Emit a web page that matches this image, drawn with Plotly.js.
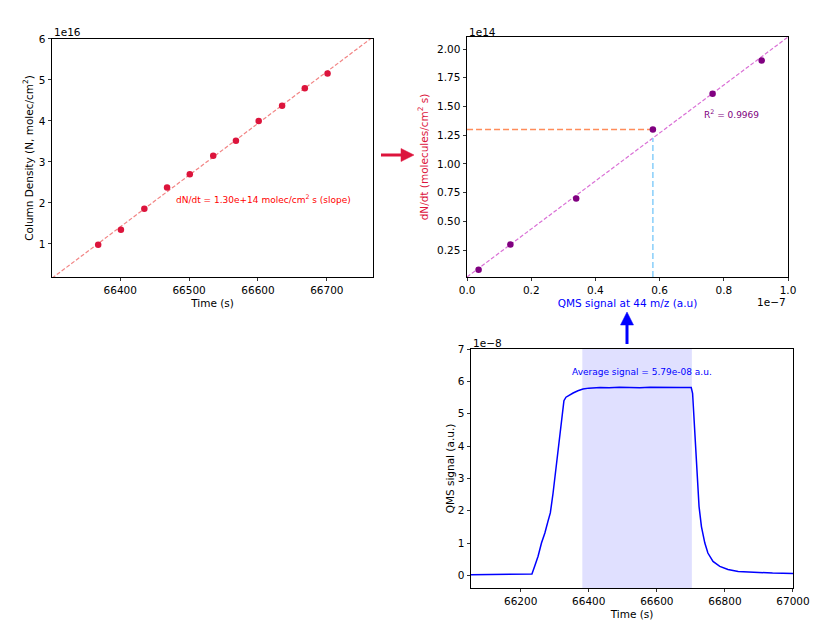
<!DOCTYPE html>
<html>
<head>
<meta charset="utf-8">
<script src="https://cdn.plot.ly/plotly-3.0.1.min.js"></script>
<style>
  html, body { margin: 0; padding: 0; background: #fff; }
  #chart { width: 830px; height: 623px; }
</style>
</head>
<body>
<div id="chart"></div>
<script>
// panel 1: column density vs time (values x1e16)
var depTime = [66368, 66401, 66435, 66468, 66501, 66535, 66568, 66601, 66635, 66668, 66701];
var colDensity = [0.98, 1.35, 1.86, 2.38, 2.70, 3.15, 3.52, 4.00, 4.37, 4.80, 5.16];

// panel 2: calibration, QMS signal (x1e-7) vs dN/dt (x1e14)
var qmsSignal = [0.036, 0.135, 0.340, 0.579, 0.765, 0.918];
var depRate = [0.08, 0.30, 0.70, 1.30, 1.61, 1.90];
var avgSignal = 0.579;   // 5.79e-08 a.u.
var slopeValue = 1.30;   // 1.30e14

// panel 3: QMS signal vs time (x1e-8)
var qmsTime = [66054, 66100, 66150, 66200, 66225, 66233, 66241, 66251, 66261, 66271,
               66280, 66287, 66295, 66305, 66315, 66323, 66327, 66333, 66345, 66354,
               66368, 66383, 66400, 66433, 66460, 66490, 66520, 66550, 66580, 66610,
               66640, 66670, 66695, 66701, 66705, 66709, 66713, 66718, 66724, 66731,
               66741, 66750, 66765, 66785, 66809, 66839, 66868, 66900, 66940, 67000];
var qmsValue = [0.02, 0.02, 0.02, 0.02, 0.02, 0.04, 0.28, 0.59, 1.00, 1.31,
                1.67, 1.93, 2.54, 3.47, 4.40, 5.11, 5.40, 5.51, 5.60, 5.64,
                5.71, 5.76, 5.79, 5.81, 5.80, 5.82, 5.81, 5.80, 5.82, 5.81,
                5.80, 5.81, 5.81, 5.81, 5.63, 4.81, 3.98, 2.95, 2.13, 1.51,
                1.00, 0.69, 0.43, 0.28, 0.18, 0.12, 0.10, 0.08, 0.07, 0.06];
var shadeStart = 66381, shadeEnd = 66703;

function linFit(xs, ys) {
    var n = xs.length, mx = 0, my = 0;
    for (var i = 0; i < n; i++) { mx += xs[i]; my += ys[i]; }
    mx /= n; my /= n;
    var sxy = 0, sxx = 0;
    for (var i = 0; i < n; i++) {
        sxy += (xs[i] - mx) * (ys[i] - my);
        sxx += (xs[i] - mx) * (xs[i] - mx);
    }
    var b = sxy / sxx;
    return function(x) { return my + b * (x - mx); };
}

var x1Range = [66301, 66767];
var y1Range = [0.195, 6.0];
var fit1 = linFit(depTime, colDensity);

var x2Range = [0, 1.0];
var fit2 = linFit(qmsSignal, depRate);
var y2Range = [fit2(x2Range[0]), fit2(x2Range[1])];

var traces = [
    {
        x: x1Range, y: [fit1(x1Range[0]), fit1(x1Range[1])],
        mode: 'lines', line: {color: 'rgba(240,110,110,0.85)', width: 1.2, dash: '4px,2px'},
        xaxis: 'x', yaxis: 'y'
    },
    {
        x: depTime, y: colDensity, mode: 'markers',
        marker: {color: '#dc143c', size: 6.5},
        xaxis: 'x', yaxis: 'y'
    },
    {
        x: x2Range, y: y2Range,
        mode: 'lines', line: {color: '#da70d6', width: 1.2, dash: '4px,2px'},
        xaxis: 'x2', yaxis: 'y2'
    },
    {
        x: [0, avgSignal], y: [slopeValue, slopeValue],
        mode: 'lines', line: {color: '#ff8c5a', width: 1.5, dash: '6px,3px'},
        xaxis: 'x2', yaxis: 'y2'
    },
    {
        x: [avgSignal, avgSignal], y: [y2Range[0], fit2(avgSignal)],
        mode: 'lines', line: {color: '#87cefa', width: 1.5, dash: '6px,3px'},
        xaxis: 'x2', yaxis: 'y2'
    },
    {
        x: qmsSignal, y: depRate, mode: 'markers',
        marker: {color: '#800080', size: 6.5},
        xaxis: 'x2', yaxis: 'y2'
    },
    {
        x: qmsTime, y: qmsValue, mode: 'lines',
        line: {color: '#0000ff', width: 1.5},
        xaxis: 'x3', yaxis: 'y3'
    }
];

var font = {family: 'DejaVu Sans', size: 10.5, color: '#000'};

function axis(extra) {
    var a = {
        showline: true, mirror: true, linecolor: '#000', linewidth: 1,
        ticks: 'outside', ticklen: 3.5, tickwidth: 0.8, tickcolor: '#000',
        showgrid: false, zeroline: false, tickfont: {size: 10.5}
    };
    for (var k in extra) a[k] = extra[k];
    return a;
}

// arrow drawn as shaft + triangular head in paper coords (pixels converted)
function px(x) { return x / 830; }
function py(y) { return 1 - y / 623; }
function arrowShapes(x0, y0, x1, y1, head, half, color) {
    var dx = x1 - x0, dy = y1 - y0, len = Math.sqrt(dx * dx + dy * dy);
    var ux = dx / len, uy = dy / len;
    var bx = x1 - ux * head, by = y1 - uy * head;
    var p = 'M' + px(x1) + ',' + py(y1) +
            ' L' + px(bx - uy * half) + ',' + py(by + ux * half) +
            ' L' + px(bx + uy * half) + ',' + py(by - ux * half) + ' Z';
    return [
        {type: 'line', xref: 'paper', yref: 'paper', x0: px(x0), y0: py(y0), x1: px(bx), y1: py(by),
         line: {color: color, width: 3}},
        {type: 'path', xref: 'paper', yref: 'paper', path: p, fillcolor: color, line: {color: color, width: 0.5}}
    ];
}

var shapes = [
    {type: 'rect', xref: 'x3', yref: 'y3 domain', x0: shadeStart, x1: shadeEnd, y0: 0, y1: 1,
     fillcolor: 'rgba(0,0,255,0.12)', line: {width: 0}, layer: 'below'}
];
shapes = shapes.concat(arrowShapes(381, 155, 414, 155, 13, 6.5, '#dc143c'));
shapes = shapes.concat(arrowShapes(627, 344, 627, 312, 13, 6.5, '#0000ff'));

var layout = {
    width: 830, height: 623,
    margin: {l: 0, r: 0, t: 0, b: 0},
    paper_bgcolor: '#fff', plot_bgcolor: '#fff',
    font: font, showlegend: false,
    xaxis: axis({domain: [0.0627, 0.4494], anchor: 'y', range: x1Range, dtick: 100, tickformat: 'd',
                 title: {text: 'Time (s)', font: {size: 10.5}, standoff: 4}}),
    yaxis: axis({domain: [0.5554, 0.9374], anchor: 'x', range: y1Range, dtick: 1,
                 title: {text: 'Column Density (N, molec/cm<sup>2</sup>)', font: {size: 10.5}, standoff: 3}}),
    xaxis2: axis({domain: [0.5627, 0.9494], anchor: 'y2', range: x2Range, dtick: 0.2, tickformat: '.1f',
                  title: {text: 'QMS signal at 44 m/z (a.u)', font: {color: '#0000ff', size: 10.5}, standoff: 4}}),
    yaxis2: axis({domain: [0.5554, 0.9406], anchor: 'x2', range: y2Range, tick0: 0, dtick: 0.25, tickformat: '.2f',
                  title: {text: 'dN/dt (molecules/cm<sup>2</sup> s)', font: {color: '#dc143c', size: 10.5}, standoff: 6}}),
    xaxis3: axis({domain: [0.5675, 0.9554], anchor: 'y3', range: [66054, 67000], dtick: 200, tickformat: 'd',
                  title: {text: 'Time (s)', font: {size: 10.5}, standoff: 4}}),
    yaxis3: axis({domain: [0.0562, 0.4398], anchor: 'x3', range: [-0.39, 7], dtick: 1,
                  title: {text: 'QMS signal (a.u.)', font: {size: 10.5}, standoff: 1}}),
    shapes: shapes,
    annotations: [
        {xref: 'x', yref: 'y', x: 66478, y: 2.10, xanchor: 'left', yanchor: 'middle', showarrow: false,
         text: 'dN/dt = 1.30e+14 molec/cm<sup>2</sup> s (slope)', font: {color: '#ff0000', size: 9}},
        {xref: 'x2', yref: 'y2', x: 0.731, y: 1.434, xanchor: 'left', yanchor: 'middle', showarrow: false,
         text: 'R<sup>2</sup> = 0.9969', font: {color: '#800080', size: 9}},
        {xref: 'x3', yref: 'y3', x: 66557, y: 6.28, xanchor: 'center', yanchor: 'middle', showarrow: false,
         text: 'Average signal = 5.79e-08 a.u.', font: {color: '#0000ff', size: 9}},
        {xref: 'paper', yref: 'paper', x: px(52), y: py(31.5), xanchor: 'left', yanchor: 'middle',
         showarrow: false, text: '1e16'},
        {xref: 'paper', yref: 'paper', x: px(467), y: py(31.5), xanchor: 'left', yanchor: 'middle',
         showarrow: false, text: '1e14'},
        {xref: 'paper', yref: 'paper', x: px(788), y: py(301.5), xanchor: 'right', yanchor: 'middle',
         showarrow: false, text: '1e\u22127'},
        {xref: 'paper', yref: 'paper', x: px(471), y: py(343), xanchor: 'left', yanchor: 'middle',
         showarrow: false, text: '1e\u22128'}
    ]
};

Plotly.newPlot('chart', traces, layout, {staticPlot: true});
</script>
</body>
</html>
